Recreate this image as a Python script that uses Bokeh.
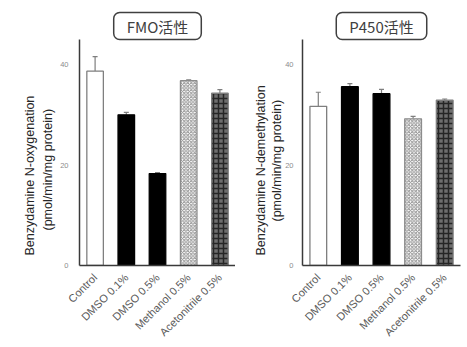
import math
from bokeh.plotting import figure
from bokeh.layouts import row
from bokeh.models import (ColumnDataSource, Range1d, FixedTicker, Whisker, TeeHead, Title)
from bokeh.embed import file_html
from bokeh.resources import INLINE

categories = ["Control", "DMSO 0.1%", "DMSO 0.5%", "Methanol 0.5%", "Acetonitrile 0.5%"]
fmo_mean = [38.7, 30.0, 18.3, 36.8, 34.3]
fmo_err = [2.9, 0.5, 0.2, 0.15, 0.7]
p450_mean = [31.7, 35.6, 34.2, 29.2, 32.9]
p450_err = [2.8, 0.6, 0.85, 0.5, 0.25]
y_ticks = [0, 20, 40]
titles = ["FMO活性", "P450活性"]
ylabel_line1 = ["Benzydamine N-oxygenation", "Benzydamine N-demethylation"]
ylabel_line2 = "(pmol/min/mg protein)"

fill_colors = ["white", "black", "black", "white", "#6e6e6e"]
line_colors = ["#7f7f7f", "black", "black", "#8c8c8c", "#7f7f7f"]
hatch_patterns = [" ", " ", " ", "diagonal_cross", "cross"]
hatch_colors = ["white", "black", "black", "#8f8f8f", "#262626"]
hatch_scales = [6, 6, 6, 3.5, 5]
hatch_weights = [1, 1, 1, 1.0, 1.5]

LFONT = "Liberation Sans"


def make_panel(mean, err, title, line1, width, height, bl, br, bt, bb,
               title_offset, tick_standoff, off1, off2, so2, so1):
    p = figure(x_range=categories, y_range=Range1d(0, 45), width=width, height=height,
               output_backend="svg", toolbar_location=None,
               min_border_left=bl, min_border_right=br, min_border_top=bt, min_border_bottom=bb)
    p.outline_line_color = None
    p.grid.visible = False

    src = ColumnDataSource(dict(
        cat=categories, mean=mean, upper=[m + e for m, e in zip(mean, err)],
        fill=fill_colors, line=line_colors, hp=hatch_patterns, hc=hatch_colors,
        hs=hatch_scales, hw=hatch_weights))
    p.vbar(x="cat", top="mean", width=0.53, source=src, fill_color="fill", line_color="line",
           line_width=1.3, hatch_pattern="hp", hatch_color="hc", hatch_scale="hs",
           hatch_weight="hw")
    p.add_layout(Whisker(source=src, base="cat", upper="upper", lower="mean",
                         line_color="#7f7f7f", line_width=1.2, lower_head=None,
                         upper_head=TeeHead(size=5, line_color="#7f7f7f", line_width=1.2)))

    for ax in (p.xaxis[0], p.yaxis[0]):
        ax.axis_line_color = "#3a3a3a"
        ax.axis_line_width = 1.5
        ax.major_tick_out = 0
        ax.major_tick_in = 0
        ax.minor_tick_out = 0
        ax.minor_tick_in = 0
        ax.axis_label_standoff = 0
    p.yaxis.ticker = FixedTicker(ticks=y_ticks)
    p.yaxis.major_label_text_color = "#8c8c8c"
    p.yaxis.major_label_text_font = LFONT
    p.yaxis.major_label_text_font_size = "7.5px"
    p.yaxis.major_label_standoff = tick_standoff
    p.xaxis.major_label_orientation = math.pi / 4
    p.xaxis.major_label_text_color = "#595959"
    p.xaxis.major_label_text_font = LFONT
    p.xaxis.major_label_text_font_size = "11px"
    p.xaxis.major_label_standoff = 10

    p.add_layout(Title(text=title, align="center", offset=title_offset, standoff=0,
                       text_font="Noto Sans CJK JP", text_font_size="15px",
                       text_font_style="normal", text_color="#404040",
                       border_line_color="#404040", border_line_width=1.5,
                       background_fill_color="white", padding=(13, 3), border_radius=6),
                 "above")
    for txt, off, so in ((ylabel_line2, off2, so2), (line1, off1, so1)):
        p.add_layout(Title(text=txt, align="left", offset=off, standoff=so,
                           text_font=LFONT, text_font_size="12.5px", text_font_style="normal",
                           text_color="#262626"), "left")
    return p


p1 = make_panel(fmo_mean, fmo_err, titles[0], ylabel_line1[0], 235, 347, 79, 0, 39, 82,
                0, 11, 10, 35, 5, 0)
p2 = make_panel(p450_mean, p450_err, titles[1], ylabel_line1[1], 232, 347, 67, 7, 39, 82,
                -5, 9, 10, 44, -2, 2)

layout = row(p1, p2)
open("out.html", "w").write(file_html(layout, INLINE))
